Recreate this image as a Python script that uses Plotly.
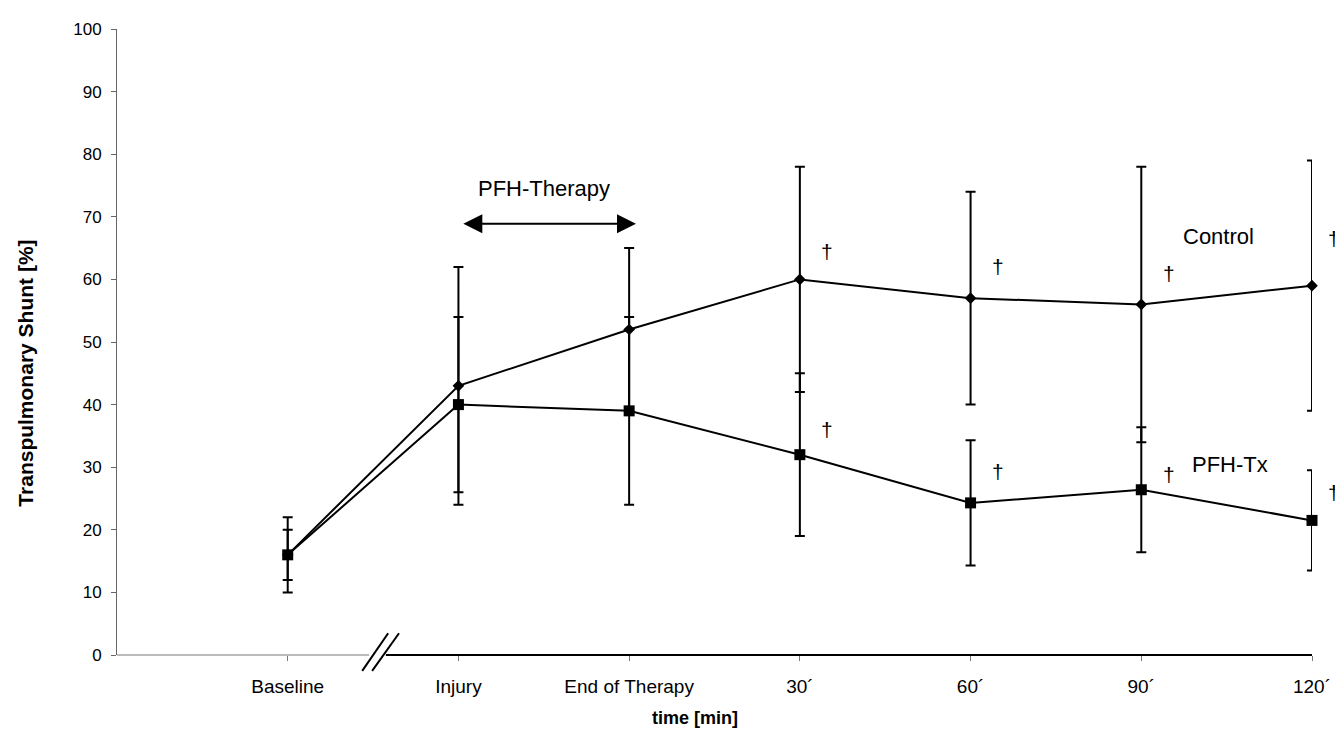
import plotly.graph_objects as go

categories = ["Baseline", "Injury", "End of Therapy", "30´", "60´", "90´", "120´"]
control = [16, 43, 52, 60, 57, 56, 59]
control_sd = [6, 19, 13, 18, 17, 22, 20]
pfh_tx = [16, 40, 39, 32, 24.3, 26.4, 21.5]
pfh_tx_sd = [4, 14, 15, 13, 10, 10, 8]
y_ticks = [0, 10, 20, 30, 40, 50, 60, 70, 80, 90, 100]

FONT = "Arial, Liberation Sans, sans-serif"

fig = go.Figure()
fig.add_trace(go.Scatter(
    x=categories, y=control, mode="lines+markers", name="Control",
    line=dict(color="black", width=2),
    marker=dict(symbol="diamond", size=9, color="black"),
    error_y=dict(type="data", array=control_sd, color="black", thickness=2, width=5),
    cliponaxis=False,
))
fig.add_trace(go.Scatter(
    x=categories, y=pfh_tx, mode="lines+markers", name="PFH-Tx",
    line=dict(color="black", width=2),
    marker=dict(symbol="square", size=11, color="black"),
    error_y=dict(type="data", array=pfh_tx_sd, color="black", thickness=2, width=5),
    cliponaxis=False,
))

# significance daggers (vertical offset above each point)
dag_c = {3: 4.5, 4: 5, 5: 5, 6: 7.5}
dag_p = {3: 4, 4: 5, 5: 2.5, 6: 4.5}
DAG_FONT = dict(size=21, color="#000000", family=FONT)
annotations = []
for series, offs in ((control, dag_c), (pfh_tx, dag_p)):
    for i, dy in offs.items():
        if i < len(categories) - 1:
            annotations.append(dict(x=i + 0.16, y=series[i] + dy, xref="x", yref="y",
                                    text="†", showarrow=False, font=DAG_FONT))
        else:
            # last category sits on the right edge of the axis: place in paper x
            annotations.append(dict(x=1.018, y=series[i] + dy, xref="paper", yref="y",
                                    xanchor="center", text="†", showarrow=False, font=DAG_FONT))

annotations += [
    dict(x=5.45, y=66.9, xref="x", yref="y", text="Control", showarrow=False,
         font=dict(size=22, color="black", family=FONT)),
    dict(x=5.52, y=30.5, xref="x", yref="y", text="PFH-Tx", showarrow=False,
         font=dict(size=22, color="black", family=FONT)),
    dict(x=1.5, y=74.6, xref="x", yref="y", text="PFH-Therapy", showarrow=False,
         font=dict(size=22, color="black", family=FONT)),
    dict(x=2.04, y=68.9, ax=1.02, ay=68.9, xref="x", yref="y", axref="x", ayref="y",
         text="", showarrow=True, arrowhead=2, arrowside="end+start", arrowsize=1.9,
         arrowwidth=2, arrowcolor="black", standoff=0, startstandoff=0),
    dict(x=-0.0767, y=0.45, xref="paper", yref="paper", text="<b>Transpulmonary Shunt [%]</b>",
         textangle=-90, showarrow=False, xanchor="center", yanchor="middle",
         font=dict(size=21, color="black", family=FONT)),
    dict(x=0.484, y=-0.1, xref="paper", yref="paper", text="<b>time [min]</b>",
         showarrow=False, xanchor="center", yanchor="middle",
         font=dict(size=18, color="black", family=FONT)),
]

shapes = [
    # x axis, left (before break) and right (after break)
    dict(type="line", xref="paper", yref="paper", x0=0, x1=0.211, y0=0, y1=0,
         line=dict(color="#777", width=1)),
    dict(type="line", xref="paper", yref="paper", x0=0.225, x1=1.0, y0=0, y1=0,
         line=dict(color="black", width=2)),
    # axis break slashes
    dict(type="line", xref="paper", yref="paper", x0=0.2052, x1=0.2269, y0=-0.0253, y1=0.0348,
         line=dict(color="black", width=2)),
    dict(type="line", xref="paper", yref="paper", x0=0.2135, x1=0.2360, y0=-0.0253, y1=0.0348,
         line=dict(color="black", width=2)),
]

fig.update_layout(
    width=1335, height=726,
    margin=dict(l=109, r=27, t=14, b=79),
    paper_bgcolor="white", plot_bgcolor="white",
    showlegend=False,
    font=dict(family=FONT, color="black"),
    annotations=annotations,
    shapes=shapes,
    xaxis=dict(
        type="category", categoryorder="array", categoryarray=categories,
        range=[-1, 6], showgrid=False, zeroline=False, showline=False,
        ticks="outside", ticklen=5, tickcolor="#777", tickwidth=1,
        tickfont=dict(size=19, color="black"), ticklabelstandoff=9,
    ),
    yaxis=dict(
        range=[0, 100], tickvals=y_ticks, showgrid=False, zeroline=False,
        showline=True, linecolor="#666", linewidth=1,
        ticks="outside", ticklen=5, tickcolor="#666",
        tickfont=dict(size=17, color="black"), ticklabelstandoff=6,
    ),
)

fig.write_html("out.html")
